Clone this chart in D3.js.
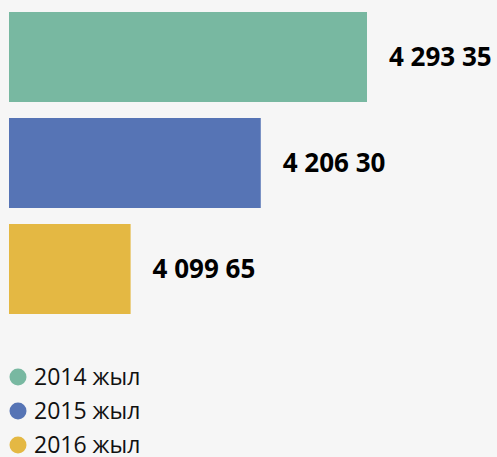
<!DOCTYPE html>
<html>
<head>
<meta charset="utf-8">
<script src="https://cdn.jsdelivr.net/npm/d3@7"></script>
<style>
  html, body { margin: 0; padding: 0; background: #f6f6f6; }
</style>
</head>
<body>
<div id="chart"></div>
<script>
const years = ["2014 жыл", "2015 жыл", "2016 жыл"];
const values = [4293.35, 4206.30, 4099.65];
const labels = ["4 293 35", "4 206 30", "4 099 65"];
const colors = ["#78b8a1", "#5674b5", "#e4b843"];

const width = 497;
const height = 457;

const svg = d3.select("#chart")
  .append("svg")
  .attr("width", width)
  .attr("height", height)
  .style("display", "block");

svg.append("rect")
  .attr("width", width)
  .attr("height", height)
  .attr("fill", "#f6f6f6");

const x = d3.scaleLinear().domain([4000, 4293.35]).range([9, 367]);
const y = d3.scaleBand().domain(years).range([12, 314]).paddingInner(16 / 106).paddingOuter(0);

const bars = svg.append("g")
  .selectAll("g")
  .data(years)
  .enter()
  .append("g");

bars.append("rect")
  .attr("x", x(4000))
  .attr("y", (d) => y(d))
  .attr("width", (d, i) => x(values[i]) - x(4000))
  .attr("height", y.bandwidth())
  .attr("fill", (d, i) => colors[i]);

bars.append("text")
  .attr("x", (d, i) => x(values[i]) + 22)
  .attr("y", (d) => y(d) + y.bandwidth() / 2)
  .attr("dy", "0.36em")
  .attr("font-family", "'Open Sans', 'Noto Sans', sans-serif")
  .attr("font-weight", "bold")
  .attr("font-size", 26)
  .attr("fill", "#000")
  .text((d, i) => labels[i]);

const legend = svg.append("g")
  .selectAll("g")
  .data(years)
  .enter()
  .append("g")
  .attr("transform", (d, i) => `translate(18, ${377 + i * 34})`);

legend.append("circle")
  .attr("r", 8.5)
  .attr("fill", (d, i) => colors[i]);

legend.append("text")
  .attr("x", 16)
  .attr("dy", "0.36em")
  .attr("font-family", "'Open Sans', 'Noto Sans', sans-serif")
  .attr("font-weight", 400)
  .attr("font-size", 23)
  .attr("fill", "#111")
  .text((d) => d);
</script>
</body>
</html>
